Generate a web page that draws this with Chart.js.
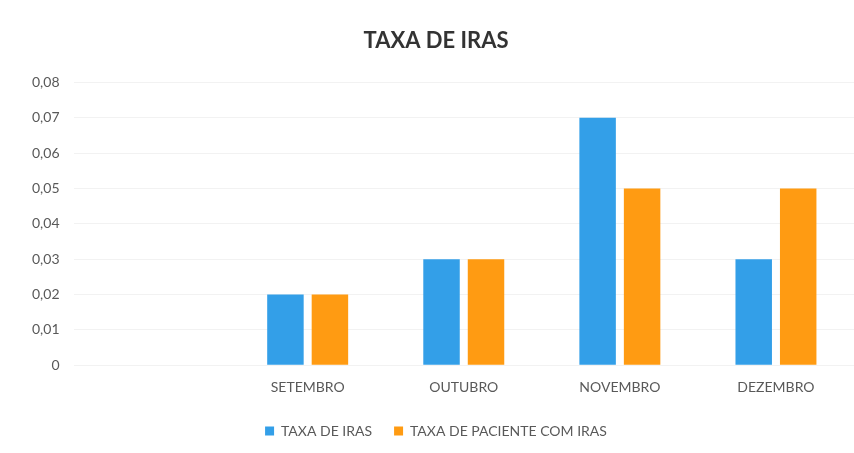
<!DOCTYPE html>
<html>
<head>
<meta charset="utf-8">
<script src="https://cdn.jsdelivr.net/npm/chart.js@4/dist/chart.umd.min.js"></script>
<style>
  html, body { margin: 0; padding: 0; background: #fff; }
  #wrap { width: 854px; height: 453px; }
</style>
</head>
<body>
<div id="wrap"><canvas id="graficoIras" width="854" height="453"></canvas></div>
<script>
const meses = ['', 'SETEMBRO', 'OUTUBRO', 'NOVEMBRO', 'DEZEMBRO']
const taxaIras = [null, 0.02, 0.03, 0.07, 0.03]
const taxaPacienteComIras = [null, 0.02, 0.03, 0.05, 0.05]
const ticksY = [0, 0.01, 0.02, 0.03, 0.04, 0.05, 0.06, 0.07, 0.08]

const corTexto = '#595959'
const fonte = 'Lato, "Open Sans", sans-serif'

const grafico = new Chart(document.getElementById('graficoIras'), {
    type: 'bar',
    data: {
        labels: meses,
        datasets: [
            {
                label: 'TAXA DE IRAS',
                data: taxaIras,
                backgroundColor: '#339fe8',
                categoryPercentage: 0.57,
                barPercentage: 0.82
            },
            {
                label: 'TAXA DE PACIENTE COM IRAS',
                data: taxaPacienteComIras,
                backgroundColor: '#ff9b12',
                categoryPercentage: 0.57,
                barPercentage: 0.82
            }
        ]
    },
    options: {
        responsive: false,
        animation: false,
        layout: {
            padding: { left: 18, right: 0, top: 22, bottom: 5 }
        },
        plugins: {
            title: {
                display: true,
                text: 'TAXA DE IRAS',
                color: '#333333',
                font: { family: fonte, size: 22, weight: 'bold' },
                padding: { top: 6, bottom: 28 }
            },
            legend: {
                position: 'bottom',
                labels: {
                    color: corTexto,
                    font: { family: fonte, size: 14 },
                    boxWidth: 9,
                    boxHeight: 9,
                    padding: 22
                }
            },
            tooltip: { enabled: false }
        },
        scales: {
            x: {
                grid: { display: false },
                border: { display: false },
                ticks: {
                    color: corTexto,
                    font: { family: fonte, size: 14 },
                    padding: 6
                }
            },
            y: {
                min: 0,
                max: 0.08,
                afterBuildTicks: function (axis) {
                    axis.ticks = ticksY.map(v => ({ value: v }))
                },
                grid: { color: '#f2f2f2', drawTicks: false },
                border: { display: false },
                ticks: {
                    color: corTexto,
                    font: { family: fonte, size: 14 },
                    padding: 14,
                    callback: function (value) {
                        return value === 0 ? '0' : value.toFixed(2).replace('.', ',')
                    }
                }
            }
        }
    }
})
</script>
</body>
</html>
